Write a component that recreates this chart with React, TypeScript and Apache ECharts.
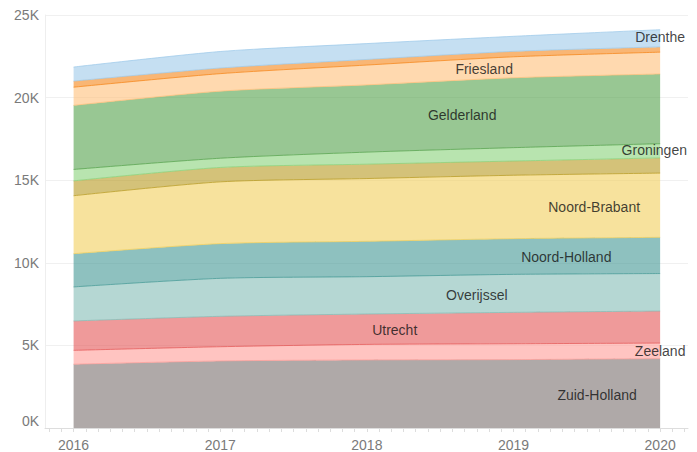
import React, { useEffect, useRef } from "react";
import * as echarts from "echarts";

// bottom-to-top stacking order
const provinces = [
  "Zuid-Holland", "Zeeland", "Utrecht", "Overijssel", "Noord-Holland", "Noord-Brabant",
  "Limburg", "Groningen", "Gelderland", "Friesland", "Flevoland", "Drenthe",
];
const colors = [
  "#79706e", "#ff9d98", "#e45756", "#83bcb6", "#439894", "#f2cf5b",
  "#b79a20", "#88d27a", "#54a24b", "#ffbf79", "#f58518", "#9ecae9",
];
const years = [2016, 2017, 2018, 2019, 2020];

const zuidHolland = [3860, 4060, 4120, 4140, 4200];
const zeeland = [840, 860, 940, 960, 940];
const utrecht = [1780, 1840, 1840, 1900, 1940];
const overijssel = [2060, 2300, 2260, 2300, 2270];
const noordHolland = [2010, 2100, 2140, 2160, 2190];
const noordBrabant = [3510, 3740, 3800, 3840, 3890];
const limburg = [900, 870, 870, 860, 920];
const groningen = [690, 560, 730, 810, 860];
const gelderland = [3880, 4060, 4070, 4230, 4220];
const friesland = [1100, 1060, 1200, 1270, 1320];
const flevoland = [370, 340, 340, 330, 320];
const drenthe = [850, 1000, 960, 910, 1040];

const seriesValues = [
  zuidHolland, zeeland, utrecht, overijssel, noordHolland, noordBrabant,
  limburg, groningen, gelderland, friesland, flevoland, drenthe,
];

// label anchor positions: year (fractional), value, name
const labelYears = [2020.0, 2018.8, 2018.65, 2019.96, 2019.55, 2019.36, 2018.75, 2018.19, 2020.0, 2019.57];
const labelValues = [23650, 21730, 18970, 16810, 13390, 10380, 8040, 5940, 4680, 2020];
const labelNames = [
  "Drenthe", "Friesland", "Gelderland", "Groningen", "Noord-Brabant",
  "Noord-Holland", "Overijssel", "Utrecht", "Zeeland", "Zuid-Holland",
];

const yTicks = [0, 5000, 10000, 15000, 20000, 25000];

const FONT = "'Liberation Sans', Arial, Helvetica, sans-serif";

export default function App() {
  const ref = useRef<HTMLDivElement>(null);
  useEffect(() => {
    if (!ref.current) return;
    const chart = echarts.init(ref.current, undefined, { renderer: "svg" });
    const monthTicks: number[] = [];
    for (let m = -2; m <= 50; m++) monthTicks.push(2016 + m / 12);

    // data given as [value, year] so that the value dimension is the stacked one
    const areaSeries = provinces.map((name, i) => ({
      type: "line",
      name,
      stack: "total",
      smooth: 0.25,
      showSymbol: false,
      symbol: "none",
      dimensions: ["v", "year"],
      encode: { x: "year", y: "v" },
      data: years.map((y, j) => [seriesValues[i][j], y]),
      lineStyle: {
        color: colors[Math.min(i + 1, colors.length - 1)],
        width: 1,
        opacity: 0.75,
      },
      areaStyle: { color: colors[i], opacity: 0.6 },
      emphasis: { disabled: true },
      silent: true,
      z: 2,
    }));

    const labelSeries = {
      type: "scatter",
      symbolSize: 0,
      silent: true,
      z: 5,
      data: labelNames.map((n, i) => ({ value: [labelYears[i], labelValues[i]], name: n })),
      label: {
        show: true,
        position: "inside",
        formatter: (p: any) => p.name,
        color: "#111111",
        fontSize: 14,
        fontFamily: FONT,
      },
    };

    chart.setOption({
      animation: false,
      grid: { left: 45, right: 9, top: 15, bottom: 21, containLabel: false },
      xAxis: {
        type: "value",
        min: 2015.805,
        max: 2020.19,
        axisLine: { show: true, lineStyle: { color: "#dddddd", width: 1 } },
        axisTick: { show: true, customValues: monthTicks, length: 4, lineStyle: { color: "#dddddd" } },
        axisLabel: {
          customValues: years,
          formatter: (v: number) => String(Math.round(v)),
          color: "#7a7a7a",
          fontSize: 14,
          fontFamily: FONT,
          margin: 10,
        },
        splitLine: { show: false },
      },
      yAxis: {
        type: "value",
        min: 0,
        max: 25000,
        interval: 5000,
        axisLine: { show: true, lineStyle: { color: "#eeeeee" } },
        axisTick: { show: false },
        axisLabel: {
          customValues: yTicks,
          formatter: (v: number) => `${v / 1000}K`,
          color: "#7a7a7a",
          fontSize: 14,
          fontFamily: FONT,
          margin: 6,
          verticalAlignMinLabel: "bottom",
        },
        splitLine: { show: true, lineStyle: { color: "#f0f0f0", width: 1 } },
      },
      series: [...areaSeries, labelSeries],
    });
    return () => chart.dispose();
  }, []);
  return (
    <div
      ref={ref}
      style={{ position: "fixed", left: 0, top: 0, width: 697, height: 452, background: "#ffffff" }}
    />
  );
}
